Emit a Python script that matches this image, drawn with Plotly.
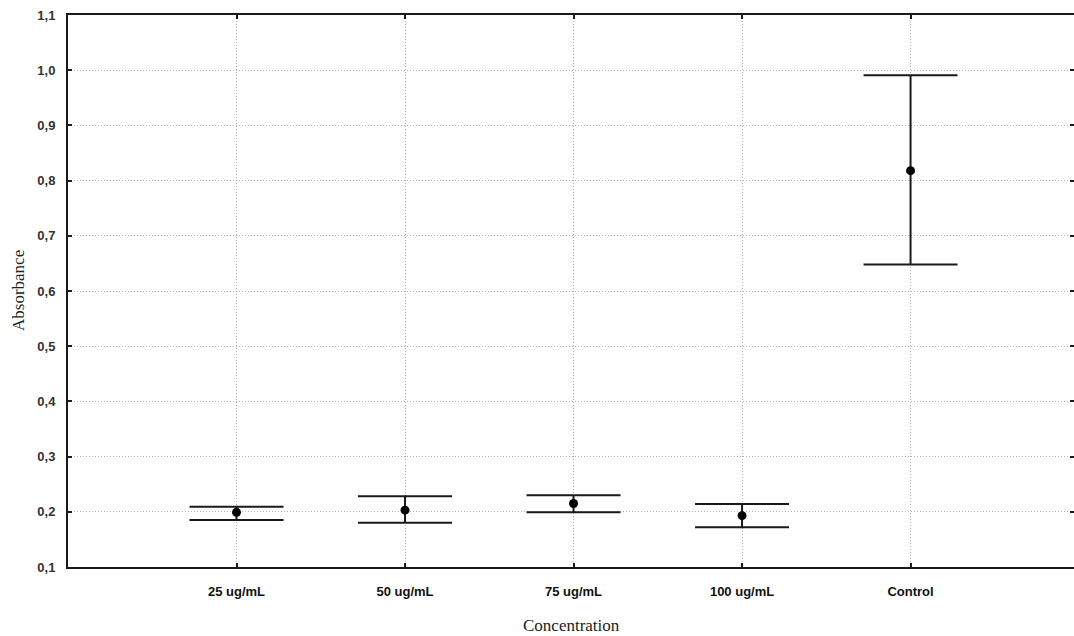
import plotly.graph_objects as go

categories = ["25 ug/mL", "50 ug/mL", "75 ug/mL", "100 ug/mL", "Control"]
means = [0.199, 0.203, 0.215, 0.193, 0.818]
upper = [0.209, 0.228, 0.230, 0.214, 0.991]
lower = [0.185, 0.180, 0.199, 0.172, 0.648]
y_ticks = [0.1, 0.2, 0.3, 0.4, 0.5, 0.6, 0.7, 0.8, 0.9, 1.0, 1.1]

xpos = list(range(len(categories)))
err_plus = [u - m for u, m in zip(upper, means)]
err_minus = [m - l for m, l in zip(means, lower)]

fig = go.Figure()
fig.add_trace(go.Scatter(
    x=xpos, y=means, mode="markers",
    marker=dict(color="black", size=9),
    error_y=dict(type="data", symmetric=False, array=err_plus, arrayminus=err_minus,
                 color="#1a1a1a", thickness=2, width=47),
    showlegend=False,
))

title_font = dict(family="Liberation Serif, Times New Roman, serif", size=17, color="#222")

fig.update_layout(
    width=1074, height=636,
    margin=dict(l=68, r=0, t=15, b=69),
    paper_bgcolor="white", plot_bgcolor="white",
    separators=", ",
    font=dict(family="Liberation Sans, Arial, sans-serif", color="#222"),
    annotations=[
        dict(text="Concentration", xref="paper", yref="paper", x=0.5, y=0,
             yshift=-58, showarrow=False, font=title_font, xanchor="center", yanchor="middle"),
        dict(text="Absorbance", xref="paper", yref="paper", x=0, y=0.5,
             xshift=-50, textangle=-90, showarrow=False, font=title_font,
             xanchor="center", yanchor="middle"),
    ],
)
fig.update_xaxes(
    range=[-1, 4.97], automargin=False,
    tickvals=xpos, ticktext=categories,
    tickfont=dict(size=13, family="Liberation Sans, Arial", weight="bold", color="#111"),
    showgrid=True, gridcolor="#b4b4b4", griddash="1px,2px", gridwidth=1,
    showline=True, linecolor="#1a1a1a", linewidth=2, mirror="ticks",
    ticks="inside", ticklen=4, tickcolor="#1a1a1a", tickwidth=1.5,
    ticklabelstandoff=11,
    zeroline=False,
)
fig.update_yaxes(
    range=[0.1, 1.1], automargin=False,
    tickvals=y_ticks, tickformat=".1f",
    tickfont=dict(size=13, family="Liberation Sans, Arial", weight="bold", color="#333"),
    showgrid=True, gridcolor="#b4b4b4", griddash="1px,2px", gridwidth=1,
    showline=True, linecolor="#1a1a1a", linewidth=2, mirror="ticks",
    ticks="inside", ticklen=4, tickcolor="#1a1a1a", tickwidth=1.5,
    ticklabelstandoff=8,
    zeroline=False,
)

fig.write_html(
    "out.html",
    config={"displayModeBar": False},
    post_script="document.body.style.margin='0';document.body.style.overflow='hidden';",
)
